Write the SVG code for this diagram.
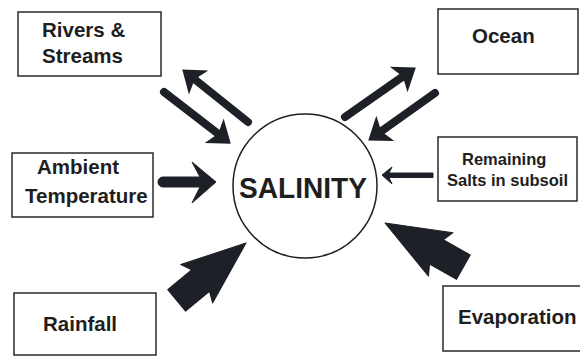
<svg xmlns="http://www.w3.org/2000/svg" width="580" height="356" viewBox="0 0 580 356">
  <style>
    .box { fill: #ffffff; stroke: #2a2a2a; stroke-width: 1.5; }
    .lbl { font-family: "Liberation Sans", Arial, sans-serif; font-weight: bold; fill: #1e1e1e; }
    .big { font-size: 20.5px; }
    .small { font-size: 16.5px; }
    .core { fill: #ffffff; stroke: #1e1e1e; stroke-width: 1.5; }
    .shaft { stroke: #1d2026; stroke-width: 8; stroke-linecap: round; fill: none; }
    .solid { fill: #1d2026; stroke: #1d2026; stroke-linejoin: round; stroke-width: 1; }
  </style>
  <defs>
    <marker id="head" markerUnits="userSpaceOnUse" orient="auto" refX="0" refY="0" markerWidth="40" markerHeight="40" overflow="visible">
      <path d="M13,0 L-8,-15.5 L-3,0 L-8,15.5 Z" fill="#1d2026"/>
    </marker>
    <!-- fat block arrow pointing along +x, tip at origin -->
    <path id="block" d="M0,0 L-64,-25 L-59,-14 L-90,-14 L-90,14 L-59,14 L-64,25 Z"/>
  </defs>
  <rect width="580" height="356" fill="#ffffff"/>

  <g id="salinity">
    <circle class="core" cx="305" cy="186" r="72"/>
    <text class="lbl" x="303" y="198" font-size="29" text-anchor="middle" textLength="128" lengthAdjust="spacingAndGlyphs">SALINITY</text>
  </g>

  <g id="rivers">
    <rect class="box" x="18" y="12" width="143" height="64"/>
    <text class="lbl big" x="42" y="37">Rivers &amp;</text>
    <text class="lbl big" x="42" y="63">Streams</text>
  </g>

  <g id="ocean">
    <rect class="box" x="438" y="9" width="140" height="65"/>
    <text class="lbl big" x="472" y="43">Ocean</text>
  </g>

  <g id="temperature">
    <rect class="box" x="12" y="153" width="141" height="64"/>
    <text class="lbl big" x="37" y="174">Ambient</text>
    <text class="lbl big" x="25" y="203">Temperature</text>
  </g>

  <g id="subsoil">
    <rect class="box" x="438" y="137" width="139" height="64"/>
    <text class="lbl small" x="462" y="165">Remaining</text>
    <text class="lbl small" x="447" y="186">Salts in subsoil</text>
  </g>

  <g id="rainfall">
    <rect class="box" x="14" y="293" width="142" height="62"/>
    <text class="lbl big" x="43" y="331">Rainfall</text>
  </g>

  <g id="evaporation">
    <rect class="box" x="443" y="286" width="140" height="65"/>
    <text class="lbl big" x="458" y="324">Evaporation</text>
  </g>

  <g id="connectors">
    <!-- exchange with rivers -->
    <line class="shaft" x1="248" y1="122" x2="192.4" y2="77.5" marker-end="url(#head)"/>
    <line class="shaft" x1="164" y1="92" x2="220.5" y2="135.7" marker-end="url(#head)"/>
    <!-- exchange with ocean -->
    <line class="shaft" x1="345" y1="117" x2="405.2" y2="74.9" marker-end="url(#head)"/>
    <line class="shaft" x1="435" y1="93" x2="378.8" y2="133" marker-end="url(#head)"/>
    <!-- temperature -->
    <path class="solid" d="M163,177 L200,177 L192,162 L216,182 L192,203 L200,187 L163,187 A5,5 0 0 1 163,177 Z"/>
    <!-- remaining salts -->
    <path class="solid" d="M382,175 L392,167 L389,173 L433,173 L433,177.5 L389,177.5 L392,184 Z"/>
    <!-- rainfall -->
    <use href="#block" class="solid" transform="translate(246,243) rotate(-39.6)"/>
    <!-- evaporation -->
    <use href="#block" class="solid" transform="translate(385,223) rotate(209.4)"/>
  </g>
</svg>
